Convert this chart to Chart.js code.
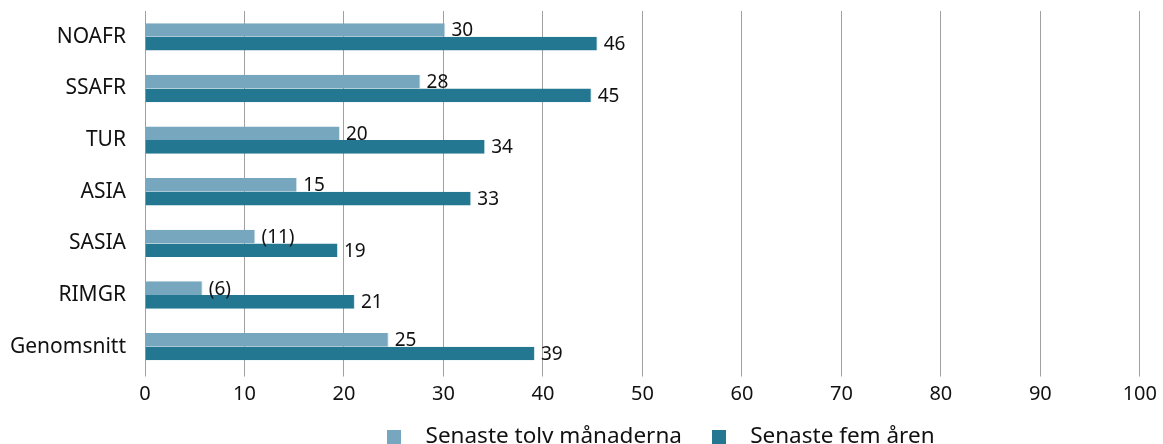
<!DOCTYPE html>
<html>
<head>
<meta charset="utf-8">
<script src="https://cdn.jsdelivr.net/npm/chart.js@4"></script>
<style>
  html, body { margin: 0; padding: 0; background: #fff; overflow: hidden; }
  #wrap { width: 1163px; height: 462px; position: relative; }
</style>
</head>
<body>
<div id="wrap"><canvas id="chart"></canvas></div>
<script>
// Values.
const categories = ['NOAFR', 'SSAFR', 'TUR', 'ASIA', 'SASIA', 'RIMGR', 'Genomsnitt'];
const twelveMonths = [30.2, 27.7, 19.6, 15.3, 11.1, 5.8, 24.5];
const fiveYears    = [45.5, 44.9, 34.2, 32.8, 19.4, 21.1, 39.2];
const twelveLabels = ['30', '28', '20', '15', '(11)', '(6)', '25'];
const fiveLabels   = ['46', '45', '34', '33', '19', '21', '39'];
const seriesNames  = ['Senaste tolv månaderna', 'Senaste fem åren'];

const colors = { light: '#77a7be', dark: '#237791', grid: '#a0a0a0', text: '#111' };
const FONT = "'Noto Sans', 'Open Sans', sans-serif";

// Small square swatch used as the legend marker.
function swatch(color) {
  const c = document.createElement('canvas');
  c.width = 14;
  c.height = 14;
  const g = c.getContext('2d');
  g.fillStyle = color;
  g.fillRect(0, 0, 14, 14);
  return c;
}

// Draws the value text just to the right of each bar end.
const barLabels = {
  id: 'barLabels',
  afterDatasetsDraw(chart) {
    const ctx = chart.ctx;
    const texts = [twelveLabels, fiveLabels];
    ctx.save();
    ctx.font = '19px ' + FONT;
    ctx.fillStyle = colors.text;
    ctx.textAlign = 'left';
    ctx.textBaseline = 'middle';
    chart.data.datasets.forEach((ds, di) => {
      chart.getDatasetMeta(di).data.forEach((bar, i) => {
        ctx.fillText(texts[di][i], bar.x + 6, bar.y + 1);
      });
    });
    ctx.restore();
  },
};

// The legend in the original sits a little right of the plot centre
// and slightly closer to the axis.
const legendNudge = {
  id: 'legendNudge',
  afterLayout(chart) {
    chart.legend.left += 12;
    chart.legend.right += 12;
    chart.legend.top -= 4;
    chart.legend.bottom -= 4;
  },
};

new Chart(document.getElementById('chart'), {
  type: 'bar',
  data: {
    labels: categories,
    datasets: [
      {
        label: seriesNames[0],
        data: twelveMonths,
        backgroundColor: colors.light,
        borderColor: '#d9e8ef',
        borderWidth: { top: 0, bottom: 0, left: 0, right: 1 },
        barPercentage: 1,
        categoryPercentage: 0.53,
        pointStyle: swatch(colors.light),
      },
      {
        label: seriesNames[1],
        data: fiveYears,
        backgroundColor: colors.dark,
        borderColor: '#cfe2ea',
        borderWidth: { top: 0, bottom: 0, left: 0, right: 1 },
        barPercentage: 1,
        categoryPercentage: 0.53,
        pointStyle: swatch(colors.dark),
      },
    ],
  },
  options: {
    indexAxis: 'y',
    responsive: true,
    maintainAspectRatio: false,
    animation: false,
    layout: { padding: { top: 11, right: 16, left: 0, bottom: 0 } },
    plugins: {
      tooltip: { enabled: false },
      legend: {
        position: 'bottom',
        fullSize: false,
        labels: {
          color: colors.text,
          font: { family: FONT, size: 22.5 },
          usePointStyle: true,
          pointStyleWidth: 40,
          boxHeight: 14,
          padding: 17,
        },
      },
    },
    scales: {
      x: {
        min: 0,
        max: 100,
        ticks: {
          stepSize: 10,
          color: colors.text,
          font: { family: FONT, size: 20 },
          padding: 6,
        },
        grid: { color: colors.grid, lineWidth: 1, drawTicks: true, tickLength: 4 },
        border: { display: false },
      },
      y: {
        ticks: {
          color: colors.text,
          font: { family: FONT, size: 21 },
          padding: 11,
        },
        grid: { display: false },
        border: { display: false },
        afterFit(scale) {
          scale.width = 145;
          scale.paddingTop = 0;
          scale.paddingBottom = 0;
        },
      },
    },
  },
  plugins: [barLabels, legendNudge],
});
</script>
</body>
</html>
